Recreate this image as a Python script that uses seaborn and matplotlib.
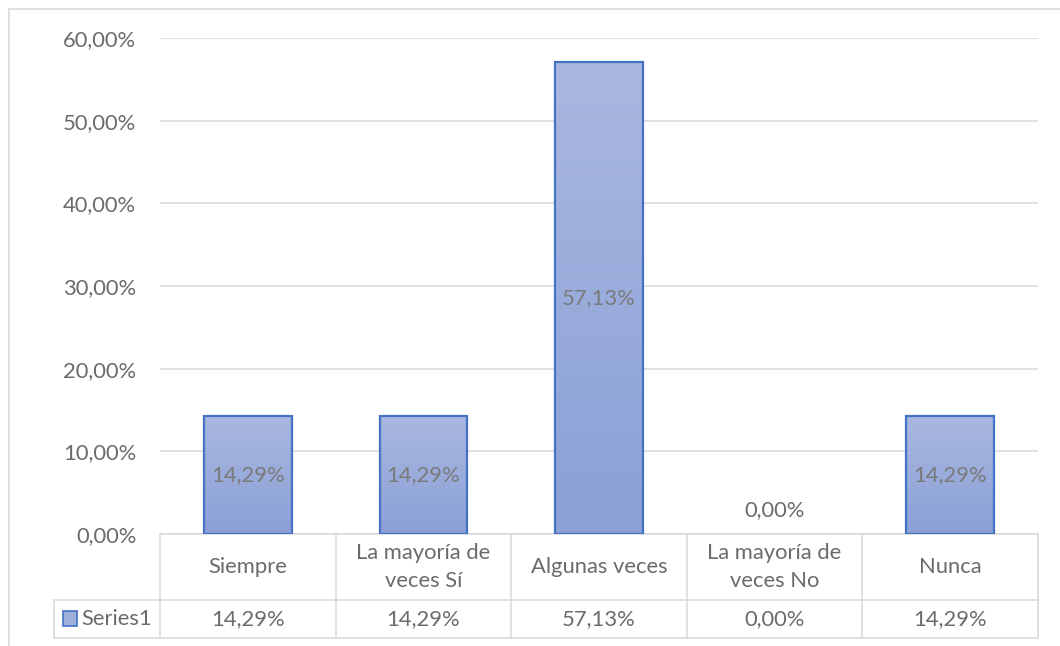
import numpy as np
import matplotlib
matplotlib.use("Agg")
import matplotlib.pyplot as plt
import seaborn as sns
from matplotlib.colors import LinearSegmentedColormap
from matplotlib.lines import Line2D
from matplotlib.patches import Rectangle

# data
categories = ["Siempre", "La mayoría de\nveces Sí", "Algunas veces", "La mayoría de\nveces No", "Nunca"]
values = [14.29, 14.29, 57.13, 0.00, 14.29]
series_name = "Series1"
yticks = [0, 10, 20, 30, 40, 50, 60]


def pct(v):
    return f"{v:.2f}%".replace(".", ",")


sns.set_theme(style="white")
plt.rcParams["font.family"] = ["Lato", "DejaVu Sans"]

W, H = 1060, 646
fig = plt.figure(figsize=(W / 100, H / 100), dpi=100)
ax = fig.add_axes([160 / W, 1 - 534 / H, 878 / W, 496 / H])

text_col = "#6b6b6b"
grid_col = "#d9d9d9"
edge_col = "#4472C4"
fs = 15.8

sns.barplot(x=categories, y=values, width=0.5, color="#9fb0dc",
            edgecolor=edge_col, linewidth=1.6, saturation=1, ax=ax, zorder=3)

# gradient fill inside each bar
cmap = LinearSegmentedColormap.from_list("bar", ["#8aa0d7", "#aab8e0"])
grad = np.linspace(0, 1, 256).reshape(-1, 1)
for p in ax.patches:
    if p.get_height() <= 0:
        p.set_visible(False)
        continue
    x0, y0 = p.get_x(), p.get_y()
    im = ax.imshow(grad, extent=[x0, x0 + p.get_width(), y0, y0 + p.get_height()],
                   origin="lower", aspect="auto", cmap=cmap, zorder=2.9)
    im.set_clip_path(p)
    p.set_facecolor("none")

ax.set_xlim(-0.5, len(categories) - 0.5)
ax.set_ylim(0, 60)
ax.set_yticks(yticks)
ax.set_yticklabels([pct(t) for t in yticks])
ax.yaxis.grid(True, color=grid_col, linewidth=1.1, zorder=0)
ax.set_axisbelow(True)
ax.tick_params(axis="y", length=0, pad=17, labelsize=fs, labelcolor=text_col)
ax.tick_params(axis="x", length=0, labelbottom=False)
ax.set_xlabel("")
ax.set_ylabel("")
for s in ax.spines.values():
    s.set_visible(False)

# data labels
for i, v in enumerate(values):
    if v > 0:
        ax.text(i, v / 2, pct(v), ha="center", va="center", fontsize=fs,
                color="#7a7a7a", zorder=5)
    else:
        ax.annotate(pct(v), xy=(i, 0), xytext=(0, 17), textcoords="offset points",
                    ha="center", va="center", fontsize=fs, color=text_col)

# data table under the plot
tr = ax.get_xaxis_transform()
n = len(categories)
y1 = -66 / 496
y2 = -104 / 496
left = -0.5 - 106 / 175.6
line_kw = dict(color=grid_col, linewidth=1.1, transform=tr, clip_on=False)
ax.add_line(Line2D([-0.5, n - 0.5], [0, 0], **line_kw))
ax.add_line(Line2D([left, n - 0.5], [y1, y1], **line_kw))
ax.add_line(Line2D([left, n - 0.5], [y2, y2], **line_kw))
ax.add_line(Line2D([left, left], [y1, y2], **line_kw))
for k in range(n + 1):
    ax.add_line(Line2D([k - 0.5, k - 0.5], [0, y2], **line_kw))
for i, (c, v) in enumerate(zip(categories, values)):
    ax.text(i, y1 / 2, c, transform=tr, ha="center", va="center", fontsize=fs,
            color=text_col, linespacing=1.45)
    ax.text(i, (y1 + y2) / 2, pct(v), transform=tr, ha="center", va="center",
            fontsize=fs, color=text_col)

# legend key in the table
ax.add_patch(Rectangle((-0.5 - 97 / 175.6, (534 - 626) / 496), 14 / 175.6, 15 / 496,
                       transform=tr, clip_on=False, facecolor="#9fb0dc",
                       edgecolor=edge_col, linewidth=1.2))
ax.text(-0.5 - 79 / 175.6, (y1 + y2) / 2, series_name, transform=tr, ha="left",
        va="center", fontsize=fs, color=text_col)

# chart area border
fig.add_artist(Line2D([9 / W, 9 / W], [0, 1 - 9 / H], transform=fig.transFigure,
                      color=grid_col, linewidth=1.2))
fig.add_artist(Line2D([9 / W, 1], [1 - 9 / H, 1 - 9 / H], transform=fig.transFigure,
                      color=grid_col, linewidth=1.2))

fig.savefig("out.png", dpi=100)
